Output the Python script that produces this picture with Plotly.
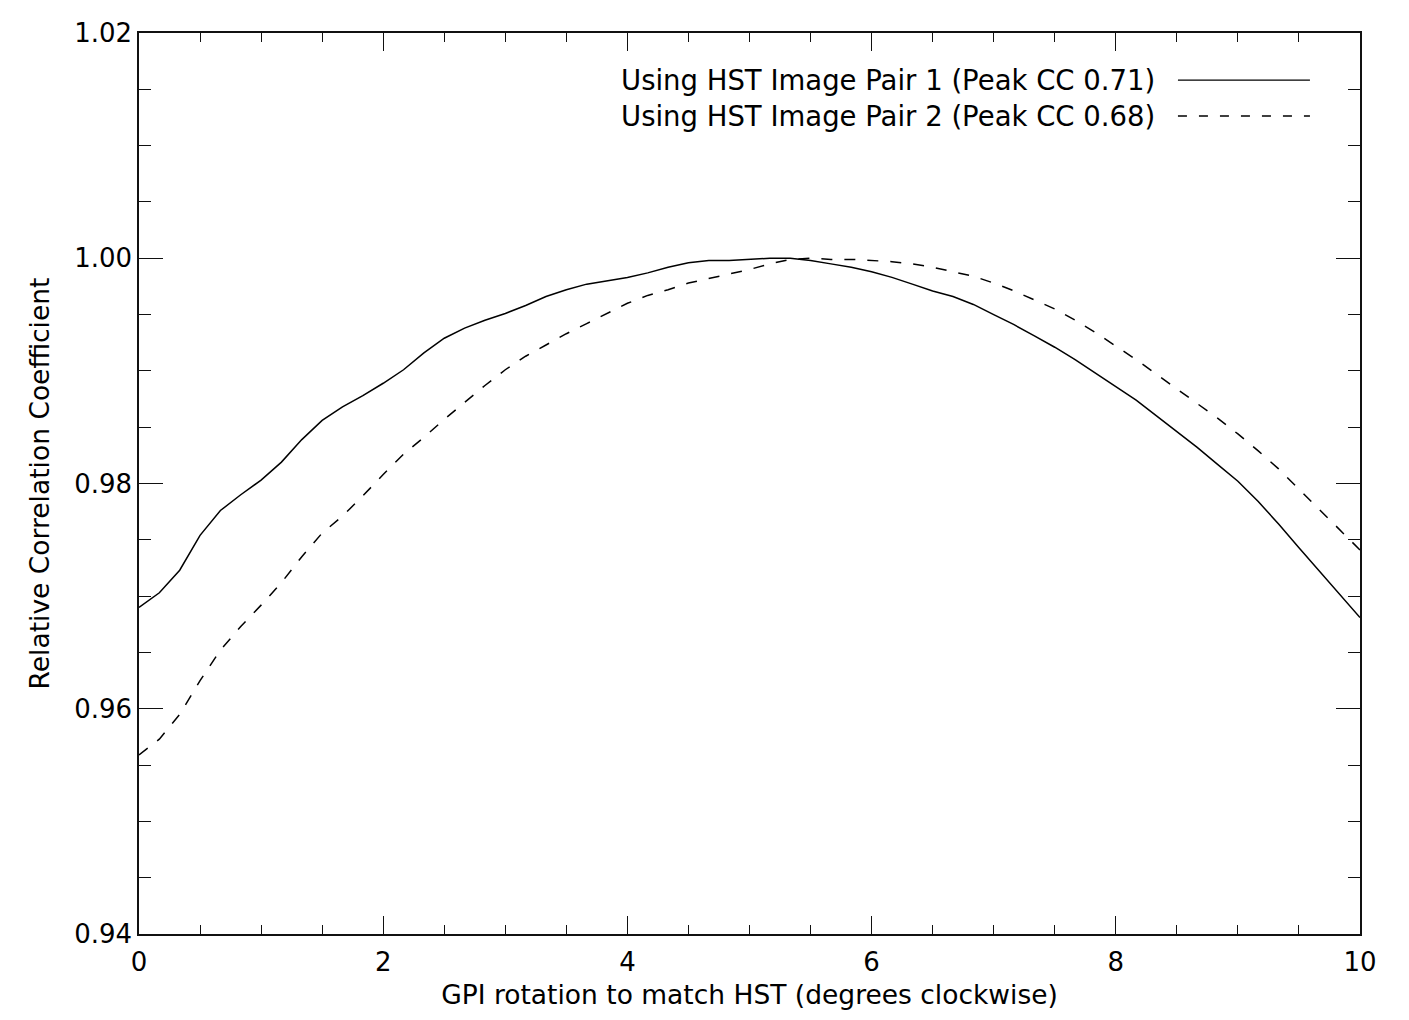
import plotly.graph_objects as go

# Rotation grid (degrees clockwise), 1/6 degree steps
rotation = [i / 6 for i in range(61)]

pair1_cc = [
    0.9690, 0.9703, 0.9723, 0.9754, 0.9776, 0.9790, 0.9803, 0.9819, 0.9839, 0.9856,
    0.9868, 0.9878, 0.9889, 0.9901, 0.9916, 0.9929, 0.9938, 0.9945, 0.9951, 0.9958,
    0.9966, 0.9972, 0.9977, 0.9980, 0.9983, 0.9987, 0.9992, 0.9996, 0.9998, 0.9998,
    0.9999, 1.0000, 1.0000, 0.9998, 0.9995, 0.9992, 0.9988, 0.9983, 0.9977, 0.9971,
    0.9966, 0.9959, 0.9950, 0.9941, 0.9931, 0.9921, 0.9910, 0.9898, 0.9886, 0.9874,
    0.9860, 0.9846, 0.9832, 0.9817, 0.9802, 0.9784, 0.9764, 0.9743, 0.9722, 0.9702,
    0.9681,
]

pair2_cc = [
    0.9559, 0.9573, 0.9595, 0.9625, 0.9652, 0.9673, 0.9692, 0.9712, 0.9735, 0.9756,
    0.9771, 0.9789, 0.9808, 0.9826, 0.9841, 0.9857, 0.9872, 0.9887, 0.9901, 0.9913,
    0.9923, 0.9933, 0.9942, 0.9951, 0.9960, 0.9967, 0.9972, 0.9978, 0.9982, 0.9986,
    0.9990, 0.9995, 0.9999, 1.0000, 0.9999, 0.9999, 0.9998, 0.9997, 0.9995, 0.9992,
    0.9988, 0.9984, 0.9978, 0.9971, 0.9963, 0.9955, 0.9945, 0.9934, 0.9922, 0.9910,
    0.9897, 0.9884, 0.9871, 0.9858, 0.9844, 0.9829, 0.9813, 0.9795, 0.9777, 0.9759,
    0.9741,
]

legend_labels = [
    "Using HST Image Pair 1 (Peak CC 0.71)",
    "Using HST Image Pair 2 (Peak CC 0.68)",
]

x_title = "GPI rotation to match HST (degrees clockwise)"
y_title = "Relative Correlation Coefficient"

FONT = "DejaVu Sans, Liberation Sans, Arial, sans-serif"
FS = 26

fig = go.Figure()
fig.add_trace(go.Scatter(x=rotation, y=pair1_cc, mode="lines",
                         line=dict(color="black", width=1.5),
                         name=legend_labels[0], showlegend=False))
fig.add_trace(go.Scatter(x=rotation, y=pair2_cc, mode="lines",
                         line=dict(color="black", width=1.5, dash="11px,12px"),
                         name=legend_labels[1], showlegend=False))

# Legend drawn IDL-style: text then line sample on the right
legend_y = [0.9478, 0.9079]
dashes = ["solid", "9px,12px"]
for lab, yy, ds in zip(legend_labels, legend_y, dashes):
    fig.add_annotation(x=0.8337, y=yy, xref="paper", yref="paper", text=lab,
                       showarrow=False, xanchor="right", yanchor="middle",
                       font=dict(family=FONT, size=27.5, color="black"))
    fig.add_shape(type="line", xref="paper", yref="paper",
                  x0=0.8509, x1=0.9590, y0=yy, y1=yy,
                  line=dict(color="black", width=1.3, dash=ds))

axis_common = dict(
    showline=True, linecolor="#111111", linewidth=1.5, mirror="ticks",
    ticks="inside", tickcolor="#111111", tickwidth=1.3,
    showgrid=False, zeroline=False,
    tickfont=dict(family=FONT, size=FS, color="black"),
)

fig.update_xaxes(
    range=[0, 10], tickmode="linear", tick0=0, dtick=2, ticklen=18,
    ticklabelstandoff=4,
    minor=dict(ticks="inside", dtick=0.5, ticklen=9, tickcolor="#111111",
               tickwidth=1.3, showgrid=False),
    title=dict(text=x_title, font=dict(family=FONT, size=26.5, color="black"),
               standoff=9),
    **axis_common,
)
fig.update_yaxes(
    range=[0.94, 1.02], tickmode="linear", tick0=0.94, dtick=0.02, ticklen=24,
    tickformat=".2f",
    minor=dict(ticks="inside", dtick=0.005, ticklen=12, tickcolor="#111111",
               tickwidth=1.3, showgrid=False),
    title=dict(text=y_title, font=dict(family=FONT, size=26.5, color="black"),
               standoff=17),
    **axis_common,
)

fig.update_layout(
    width=1409, height=1020,
    margin=dict(l=139, r=49, t=33, b=86),
    paper_bgcolor="white", plot_bgcolor="white",
    font=dict(family=FONT, color="black"),
)

fig.write_html("out.html")
